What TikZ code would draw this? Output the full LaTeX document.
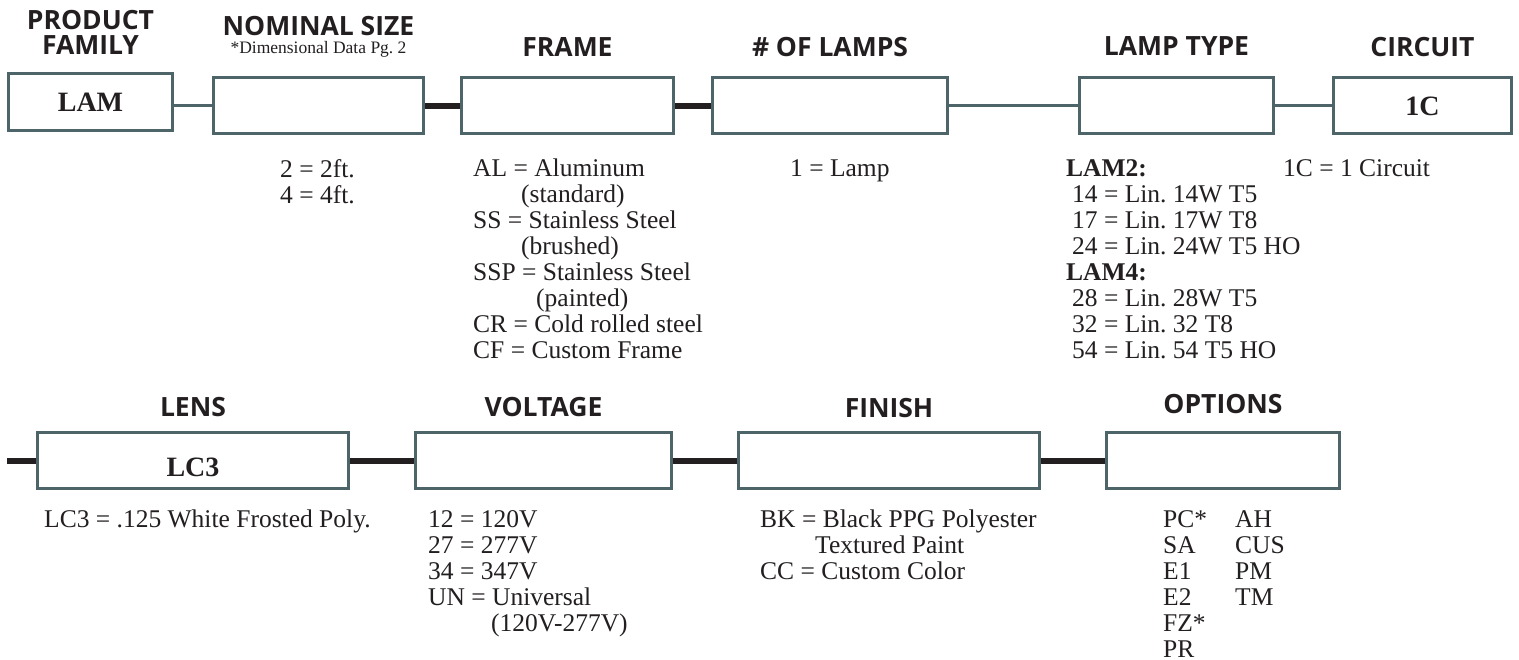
\documentclass[tikz,border=0pt]{standalone}
\usepackage{fontspec}
\setmainfont{Liberation Serif}
\newfontfamily\hdrfont{Open Sans}
\usetikzlibrary{backgrounds}
\definecolor{boxc}{RGB}{77,101,105}
\definecolor{inkc}{RGB}{35,31,32}
\frenchspacing
\begin{document}
\begin{tikzpicture}[x=1pt,y=-1pt,
  box/.style={draw=boxc, line width=3pt, fill=white, inner sep=0pt, minimum height=56pt,
              font=\bfseries\fontsize{28}{30}\selectfont, text=inkc},
  hdr/.style={font=\hdrfont\bfseries\fontsize{26.5}{25.5}\selectfont, text=inkc, inner sep=0pt, align=center},
  sub/.style={font=\fontsize{17.5}{18}\selectfont, text=inkc, inner sep=0pt},
  body/.style={font=\frenchspacing\fontsize{25.5}{26}\selectfont, text=inkc, inner sep=0pt, align=left, anchor=north west},
  thinc/.style={draw=boxc, line width=3pt},
  thickc/.style={draw=inkc, line width=5.5pt}]
\useasboundingbox (0,0) rectangle (1519,660);

% ---- top row boxes
\node[box, minimum width=164pt, minimum height=57pt] (b1) at (90.5,102) {LAM};
\node[box, minimum width=210pt] (b2) at (318.5,105.5) {};
\node[box, minimum width=212pt] (b3) at (567.5,106) {};
\node[box, minimum width=235pt] (b4) at (830,106) {};
\node[box, minimum width=194pt] (b5) at (1176.5,106) {};
\node[box, minimum width=178pt] (b6) at (1422.5,106) {1C};

% ---- bottom row boxes
\node[box, minimum width=311pt, text height=32pt, text depth=0pt] (l1) at (193,460.5) {LC3};
\node[box, minimum width=256pt] (l2) at (543.5,460.5) {};
\node[box, minimum width=301pt] (l3) at (889,460.5) {};
\node[box, minimum width=233pt] (l4) at (1223,460.5) {};

% ---- connectors (behind the boxes)
\begin{scope}[on background layer]
\fill[white] (0,0) rectangle (1519,660);
\draw[thinc] (b1.east |- b3.west) -- (b2.west |- b3.west);
\draw[thickc] (b2.east |- b3.west) -- (b3.west);
\draw[thickc] (b3.east) -- (b4.west);
\draw[thinc] (b4.east) -- (b5.west);
\draw[thinc] (b5.east) -- (b6.west);
\coordinate (stub) at (7,461);
\draw[thickc] (stub) -- (l1.west |- stub);
\draw[thickc] (l1.east |- stub) -- (l2.west |- stub);
\draw[thickc] (l2.east |- stub) -- (l3.west |- stub);
\draw[thickc] (l3.east |- stub) -- (l4.west |- stub);
\end{scope}

% ---- headers
\node[hdr, anchor=north] (h1) at (90.5,10) {PRODUCT\\FAMILY};
\node[hdr] (h2) at (318.5,26.5) {NOMINAL SIZE};
\node[sub] (h2s) at (318.5,49) {*Dimensional Data Pg. 2};
\node[hdr] (h3) at (567.5,47.5) {FRAME};
\node[hdr] (h4) at (830,47.5) {\# OF LAMPS};
\node[hdr] (h5) at (1176.5,46.5) {LAMP TYPE};
\node[hdr] (h6) at (1422.5,47.5) {CIRCUIT};
\node[hdr] (g1) at (193,407) {LENS};
\node[hdr] (g2) at (543.5,407) {VOLTAGE};
\node[hdr] (g3) at (889,408) {FINISH};
\node[hdr] (g4) at (1223,404) {OPTIONS};

% ---- descriptions
\node[body] (t2) at (280,159) {2 = 2ft.\\4 = 4ft.};
\node[body] (t3) at (473,159) {AL = Aluminum\\\hspace*{48pt}(standard)\\SS = Stainless Steel\\\hspace*{48pt}(brushed)\\SSP = Stainless Steel\\\hspace*{63pt}(painted)\\CR = Cold rolled steel\\CF = Custom Frame};
\node[body] (t4) at (790,159) {1 = Lamp};
\node[body] (t5) at (1066,159) {\textbf{LAM2:}\\\hspace*{6pt}14 = Lin. 14W T5\\\hspace*{6pt}17 = Lin. 17W T8\\\hspace*{6pt}24 = Lin. 24W T5 HO\\\textbf{LAM4:}\\\hspace*{6pt}28 = Lin. 28W T5\\\hspace*{6pt}32 = Lin. 32 T8\\\hspace*{6pt}54 = Lin. 54 T5 HO};
\node[body] (t6) at (1283,159) {1C = 1 Circuit};

\node[body] (u1) at (44,510) {LC3 = .125 White Frosted Poly.};
\node[body] (u2) at (428,510) {12 = 120V\\27 = 277V\\34 = 347V\\UN = Universal\\\hspace*{63pt}(120V-277V)};
\node[body] (u3) at (760,510) {BK = Black PPG Polyester\\\hspace*{55pt}Textured Paint\\CC = Custom Color};
\node[body] (u4) at (1163,510) {PC*\\SA\\E1\\E2\\FZ*\\PR};
\node[body] (u5) at (1235,510) {AH\\CUS\\PM\\TM};
\end{tikzpicture}
\end{document}
